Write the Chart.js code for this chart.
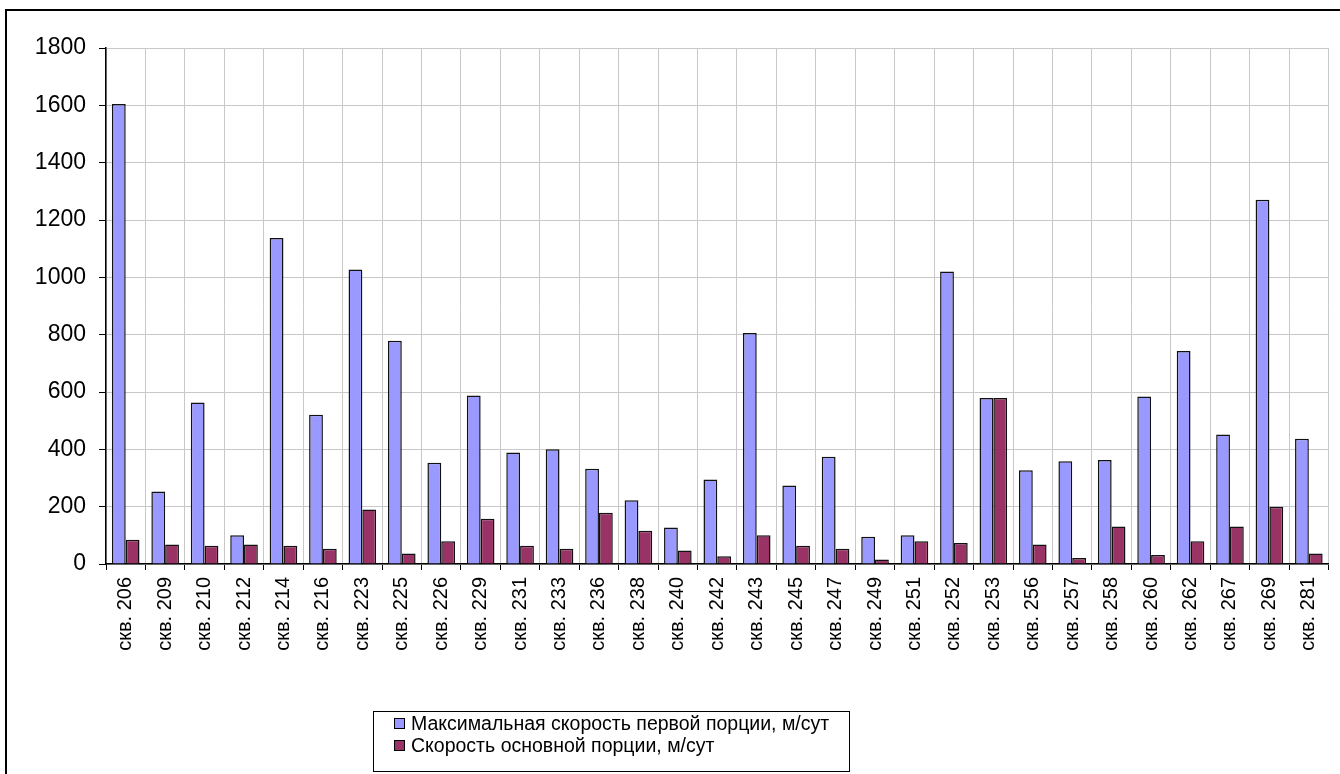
<!DOCTYPE html>
<html>
<head>
<meta charset="utf-8">
<script src="https://cdn.jsdelivr.net/npm/chart.js@4/dist/chart.umd.min.js"></script>
<style>
  html, body { margin: 0; padding: 0; background: #fff; }
  #wrap { width: 1340px; height: 774px; position: relative; }
</style>
</head>
<body>
<div id="wrap"><canvas id="wellChart" width="1340" height="774"></canvas></div>
<script>
// wells
const wells = ['206', '209', '210', '212', '214', '216', '223', '225', '226', '229',
    '231', '233', '236', '238', '240', '242', '243', '245', '247', '249',
    '251', '252', '253', '256', '257', '258', '260', '262', '267', '269', '281'];

// max velocity of the first portion, m/day
const firstPortion = [1605, 253, 563, 100, 1137, 521, 1027, 779, 353, 588,
    389, 400, 332, 222, 127, 295, 806, 274, 374, 95,
    100, 1020, 579, 327, 358, 363, 584, 743, 452, 1271, 437];

// velocity of the main portion, m/day
const mainPortion = [85, 68, 64, 68, 64, 53, 190, 37, 79, 158,
    64, 53, 179, 116, 47, 27, 100, 64, 53, 16,
    79, 73, 579, 68, 21, 131, 31, 79, 131, 200, 37];

const yTicks = [0, 200, 400, 600, 800, 1000, 1200, 1400, 1600, 1800];

const seriesNames = ['Максимальная скорость первой порции, м/сут', 'Скорость основной порции, м/сут'];
const seriesColors = ['#9999FF', '#993366'];

const FONT = '"Liberation Sans", Arial, sans-serif';

// frame around the whole chart + legend box at the bottom
const framePlugin = {
    id: 'frame',
    afterDraw(chart) {
        const c = chart.ctx;
        c.save();
        c.strokeStyle = '#000';
        c.lineWidth = 2;
        c.beginPath();
        c.moveTo(6, 800);
        c.lineTo(6, 10);
        c.lineTo(1340, 10);
        c.stroke();

        // legend
        const lx = 373, ly = 711, lw = 476, lh = 60;
        c.lineWidth = 1;
        c.strokeStyle = '#000';
        c.strokeRect(lx + 0.5, ly + 0.5, lw, lh);
        c.font = '19.5px ' + FONT;
        c.textBaseline = 'middle';
        chart.data.datasets.forEach((ds, i) => {
            const cy = ly + 13 + i * 22;
            c.fillStyle = ds.backgroundColor;
            c.fillRect(lx + 21.5, cy - 5.5, 10, 10);
            c.strokeRect(lx + 21.5, cy - 5.5, 10, 10);
            c.fillStyle = '#000';
            c.fillText(ds.label, lx + 38, cy + 1);
        });
        c.restore();
    }
};

new Chart(document.getElementById('wellChart'), {
    type: 'bar',
    data: {
        labels: wells.map(w => 'скв. ' + w),
        datasets: [
            {
                label: seriesNames[0],
                data: firstPortion,
                backgroundColor: seriesColors[0],
                borderColor: '#111',
                borderWidth: 1.5
            },
            {
                label: seriesNames[1],
                data: mainPortion,
                backgroundColor: seriesColors[1],
                borderColor: '#111',
                borderWidth: 1.5
            }
        ]
    },
    options: {
        responsive: false,
        animation: false,
        layout: { padding: { top: 48, right: 10, left: 0, bottom: 0 } },
        datasets: {
            bar: { categoryPercentage: 0.7, barPercentage: 1.0 }
        },
        plugins: {
            legend: { display: false },
            tooltip: { enabled: false }
        },
        scales: {
            x: {
                afterFit: s => { s.height = 210; },
                grid: {
                    color: '#c8c8c8',
                    tickColor: '#000',
                    tickLength: 6,
                    offset: true
                },
                border: { color: '#000', width: 1.5 },
                ticks: {
                    minRotation: 90,
                    maxRotation: 90,
                    autoSkip: false,
                    padding: 7,
                    color: '#000',
                    font: { family: FONT, size: 20 }
                }
            },
            y: {
                min: 0,
                max: 1800,
                afterFit: s => { s.width = 106; },
                afterBuildTicks: s => { s.ticks = yTicks.map(v => ({ value: v })); },
                grid: {
                    color: '#c8c8c8',
                    tickColor: '#000',
                    tickLength: 7
                },
                border: { color: '#000', width: 1.5 },
                ticks: {
                    padding: 13,
                    color: '#000',
                    font: { family: FONT, size: 23 },
                    callback: v => String(v)
                }
            }
        }
    },
    plugins: [framePlugin]
});
</script>
</body>
</html>
